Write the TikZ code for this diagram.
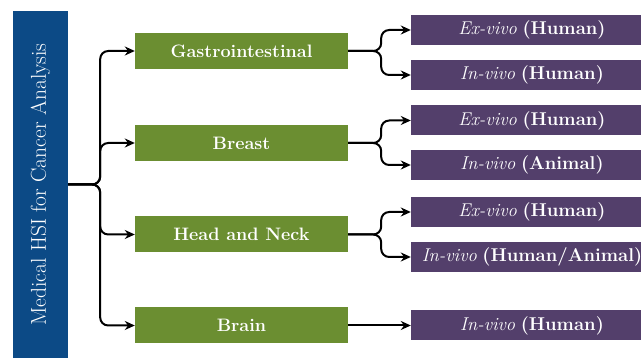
\documentclass[tikz,border=0pt]{standalone}
\usetikzlibrary{positioning,arrows.meta}
\definecolor{hsiblue}{RGB}{12,74,134}
\definecolor{organgreen}{RGB}{107,142,49}
\definecolor{studypurple}{RGB}{83,63,107}
\tikzset{
  hsibox/.style={fill=hsiblue,text=white,rotate=90,minimum width=347pt,minimum height=55pt,inner sep=0pt,font=\fontsize{21.5}{24}\selectfont},
  organ/.style={fill=organgreen,text=white,minimum width=213pt,minimum height=36pt,inner sep=0pt,font=\fontsize{18}{20}\selectfont\bfseries},
  study/.style={fill=studypurple,text=white,minimum width=242pt,minimum height=30pt,inner sep=0pt,font=\fontsize{18.5}{20}\selectfont},
  link/.style={-{Stealth[length=10pt,width=9pt]},line width=2pt,rounded corners=8pt}
}
\newcommand{\vivo}[2]{{\itshape #1} \textbf{(#2)}}

\begin{document}
\begin{tikzpicture}[x=1pt,y=1pt]
\useasboundingbox (0,0) rectangle (641,358);
% ---- root ----
\node[hsibox] (hsi) at (40.5,173.5) {Medical HSI for Cancer Analysis};
% ---- organs ----
\node[organ] (gi) at (241.5,307) {Gastrointestinal};
\node[organ] (breast) at (241.5,215) {Breast};
\node[organ] (hn) at (241.5,123.5) {Head and Neck};
\node[organ] (brain) at (241.5,32.5) {Brain};
% ---- studies ----
\node[study] (gi-ex) at (532,328) {\vivo{Ex-vivo}{Human}};
\node[study] (gi-in) at (532,283) {\vivo{In-vivo}{Human}};
\node[study] (br-ex) at (532,237.5) {\vivo{Ex-vivo}{Human}};
\node[study] (br-in) at (532,193) {\vivo{In-vivo}{Animal}};
\node[study] (hn-ex) at (532,146) {\vivo{Ex-vivo}{Human}};
\node[study] (hn-in) at (532,101) {\vivo{In-vivo}{Human/Animal}};
\node[study] (bn-in) at (532,32.5) {\vivo{In-vivo}{Human}};
% ---- connectors ----
\foreach \o in {gi,breast,hn,brain}
  \draw[link] (hsi.south) -- ++(32,0) |- (\o.west);
\draw[link] (gi.east) -- ++(33,0) |- (gi-ex.west);
\draw[link] (gi.east) -- ++(33,0) |- (gi-in.west);
\draw[link] (breast.east) -- ++(33,0) |- (br-ex.west);
\draw[link] (breast.east) -- ++(33,0) |- (br-in.west);
\draw[link] (hn.east) -- ++(33,0) |- (hn-ex.west);
\draw[link] (hn.east) -- ++(33,0) |- (hn-in.west);
\draw[link] (brain.east) -- (bn-in.west);
\end{tikzpicture}
\end{document}
